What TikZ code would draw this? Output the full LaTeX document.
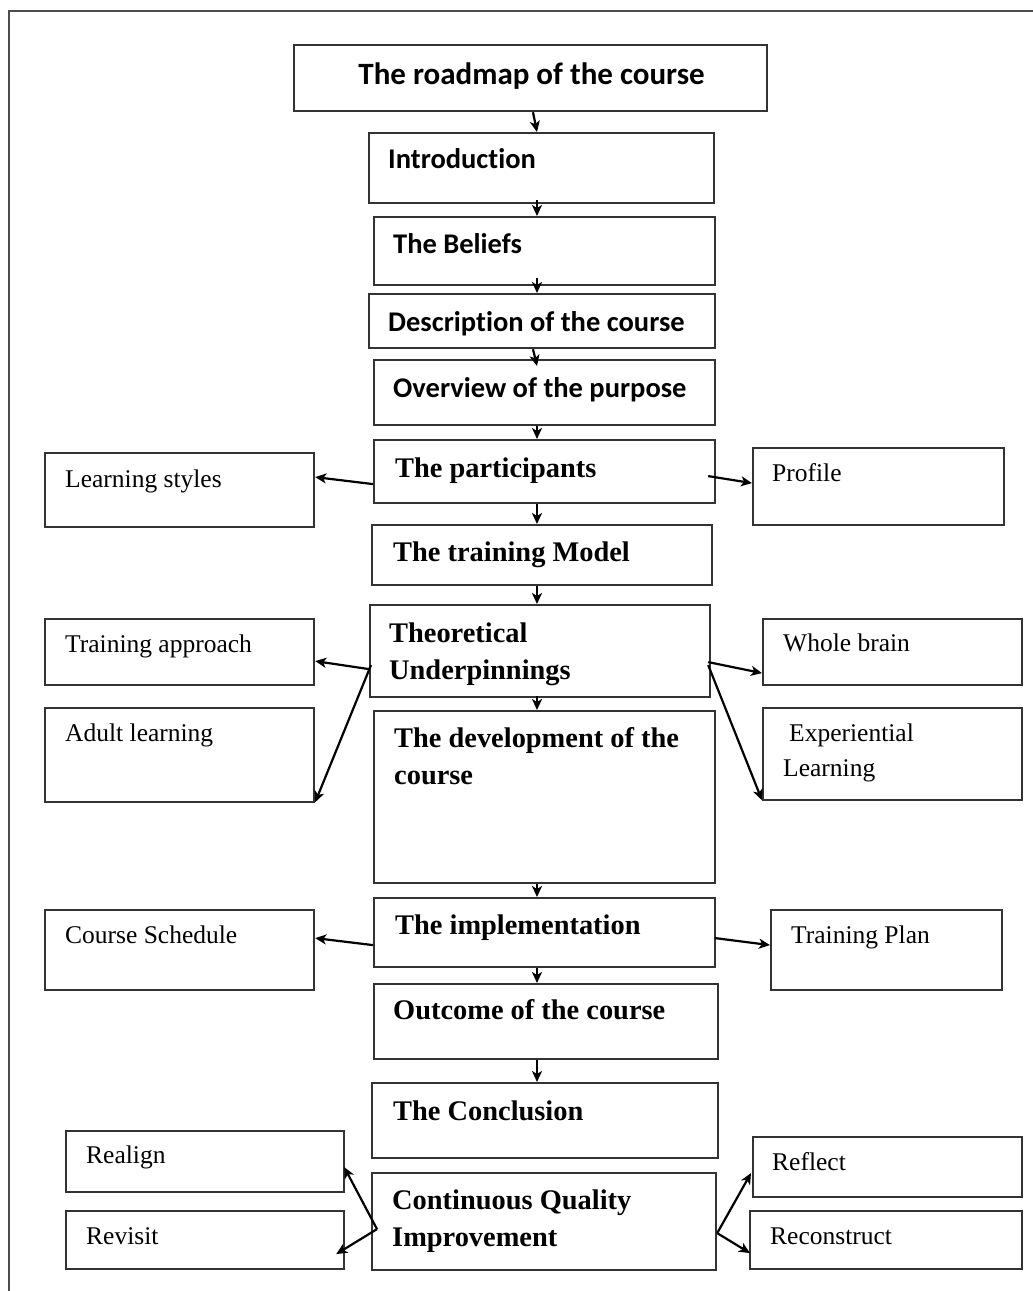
\documentclass[tikz,border=0pt]{standalone}
\usepackage{fontspec}
\setmainfont{Liberation Serif}
\newfontfamily\calib[Ligatures=NoCommon]{Carlito}
\usetikzlibrary{arrows.meta,calc}

\tikzset{
  box/.style={draw=black!80, line width=2.2pt, rectangle, inner sep=0pt,
              anchor=north west, fill=white},
  % heading text (Calibri-like bold)
  hsans/.style={font=\calib\bfseries\fontsize{28.5}{34}\selectfont, inner sep=0pt},
  % main step text (Times-like bold)
  hser/.style={font=\bfseries\fontsize{28.4}{34}\selectfont, inner sep=0pt},
  % side box text (Times-like regular)
  side/.style={font=\fontsize{25.5}{30}\selectfont, inner sep=0pt},
  link/.style={draw=black, line width=2.2pt, -{Stealth[length=11pt,width=10pt,inset=3pt]}},
  frameline/.style={draw=black!70, line width=2.4pt},
}

\begin{document}
\begin{tikzpicture}[x=1pt,y=-1pt]
\useasboundingbox (0,0) rectangle (1033,1291);

% page frame
\coordinate (fA) at (9,1291);
\coordinate (fB) at (9,11);
\coordinate (fC) at (1033,11);
\draw[frameline] (fA) -- (fB) -- (fC);

% spine for the vertical links
\coordinate (sp) at (537,0);
\coordinate (sp0) at (533,0);

% ---------- main column ----------
\node[box, minimum width=473pt, minimum height=66pt,
  label={[hsans, font=\calib\bfseries\fontsize{31}{36}\selectfont, anchor=base, xshift=1pt, yshift=-40pt]north:The roadmap of the course}] (road) at (293,44) {};

\node[box, minimum width=345pt, minimum height=70pt,
  label={[hsans, anchor=base west, xshift=20pt, yshift=-36pt]north west:Introduction}] (intro) at (368,132) {};
\node[box, minimum width=341pt, minimum height=68pt,
  label={[hsans, anchor=base west, xshift=20pt, yshift=-37pt]north west:The Beliefs}] (bel) at (373,216) {};
\node[box, minimum width=346pt, minimum height=54pt,
  label={[hsans, anchor=base west, xshift=20pt, yshift=-38pt]north west:Description of the course}] (desc) at (368,293) {};
\node[box, minimum width=341pt, minimum height=65pt,
  label={[hsans, anchor=base west, xshift=20pt, yshift=-38pt]north west:Overview of the purpose}] (over) at (373,359) {};
\node[box, minimum width=341pt, minimum height=63pt,
  label={[hser, anchor=base west, xshift=22pt, yshift=-38pt]north west:The participants}] (part) at (373,439) {};
\node[box, minimum width=340pt, minimum height=60pt,
  label={[hser, anchor=base west, xshift=22pt, yshift=-37pt]north west:The training Model}] (model) at (371,524) {};
\node[box, minimum width=340pt, minimum height=92pt,
  label={[hser, anchor=base west, xshift=20pt, yshift=-38pt]north west:Theoretical},
  label={[hser, anchor=base west, xshift=20pt, yshift=-75pt]north west:Underpinnings}] (theo) at (369,604) {};
\node[box, minimum width=341pt, minimum height=172pt,
  label={[hser, anchor=base west, xshift=21pt, yshift=-37pt]north west:The development of the},
  label={[hser, anchor=base west, xshift=21pt, yshift=-74pt]north west:course}] (dev) at (373,710) {};
\node[box, minimum width=341pt, minimum height=69pt,
  label={[hser, anchor=base west, xshift=22pt, yshift=-37pt]north west:The implementation}] (impl) at (373,897) {};
\node[box, minimum width=344pt, minimum height=75pt,
  label={[hser, anchor=base west, xshift=20pt, yshift=-36pt]north west:Outcome of the course}] (outc) at (373,983) {};
\node[box, minimum width=346pt, minimum height=75pt,
  label={[hser, anchor=base west, xshift=22pt, yshift=-38pt]north west:The Conclusion}] (concl) at (371,1082) {};
\node[box, minimum width=344pt, minimum height=97pt,
  label={[hser, anchor=base west, xshift=21pt, yshift=-37pt]north west:Continuous Quality},
  label={[hser, anchor=base west, xshift=21pt, yshift=-74pt]north west:Improvement}] (cqi) at (371,1172) {};

% ---------- side boxes ----------
\node[box, minimum width=269pt, minimum height=74pt,
  label={[side, anchor=base west, xshift=21pt, yshift=-35pt]north west:Learning styles}] (ls) at (44,452) {};
\node[box, minimum width=251pt, minimum height=77pt,
  label={[side, anchor=base west, xshift=20pt, yshift=-34pt]north west:Profile}] (prof) at (752,447) {};
\node[box, minimum width=269pt, minimum height=66pt,
  label={[side, anchor=base west, xshift=21pt, yshift=-34pt]north west:Training approach}] (tapp) at (44,618) {};
\node[box, minimum width=269pt, minimum height=94pt,
  label={[side, anchor=base west, xshift=21pt, yshift=-34pt]north west:Adult learning}] (adult) at (44,707) {};
\node[box, minimum width=259pt, minimum height=66pt,
  label={[side, anchor=base west, xshift=21pt, yshift=-33pt]north west:Whole brain}] (whole) at (762,618) {};
\node[box, minimum width=259pt, minimum height=92pt,
  label={[side, anchor=base west, xshift=27pt, yshift=-34pt]north west:Experiential},
  label={[side, anchor=base west, xshift=21pt, yshift=-69pt]north west:Learning}] (exper) at (762,707) {};
\node[box, minimum width=269pt, minimum height=80pt,
  label={[side, anchor=base west, xshift=21pt, yshift=-34pt]north west:Course Schedule}] (sched) at (44,909) {};
\node[box, minimum width=231pt, minimum height=80pt,
  label={[side, anchor=base west, xshift=21pt, yshift=-34pt]north west:Training Plan}] (plan) at (770,909) {};
\node[box, minimum width=278pt, minimum height=61pt,
  label={[side, anchor=base west, xshift=21pt, yshift=-33pt]north west:Realign}] (realign) at (65,1130) {};
\node[box, minimum width=278pt, minimum height=58pt,
  label={[side, anchor=base west, xshift=21pt, yshift=-34pt]north west:Revisit}] (revisit) at (65,1210) {};
\node[box, minimum width=269pt, minimum height=60pt,
  label={[side, anchor=base west, xshift=20pt, yshift=-34pt]north west:Reflect}] (reflect) at (752,1136) {};
\node[box, minimum width=272pt, minimum height=58pt,
  label={[side, anchor=base west, xshift=21pt, yshift=-34pt]north west:Reconstruct}] (recon) at (749,1210) {};

% ---------- vertical links ----------
\draw[link] (road.south -| sp0) -- (intro.north -| sp);
\draw[link] ([yshift=4pt]intro.south -| sp) -- (bel.north -| sp);
\draw[link] ([yshift=8pt]bel.south -| sp) -- (desc.north -| sp);
\draw[link] (desc.south -| sp0) -- ([yshift=-7pt]over.north -| sp);
\draw[link] (over.south -| sp) -- (part.north -| sp);
\draw[link] (part.south -| sp) -- (model.north -| sp);
\draw[link] (model.south -| sp) -- (theo.north -| sp);
\draw[link] ([yshift=2pt]theo.south -| sp) -- (dev.north -| sp);
\draw[link] (dev.south -| sp) -- (impl.north -| sp);
\draw[link] (impl.south -| sp) -- (outc.north -| sp);
\draw[link] (outc.south -| sp) -- (concl.north -| sp);

% ---------- side links ----------
\draw[link] ([yshift=-12.5pt]part.west) -- ([yshift=13pt]ls.east);
\draw[link] ([xshift=-8pt,yshift=-4.5pt]part.east) -- ([yshift=3.5pt]prof.west);

\draw[link] ([yshift=-18pt]theo.west) -- ([yshift=-9pt]tapp.east);
\draw[link] ([xshift=2pt,yshift=-14pt]theo.west) -- ([yshift=1pt]adult.south east);
\draw[link] ([xshift=-3pt,yshift=-11pt]theo.east) -- ([yshift=-21pt]whole.west);
\draw[link] ([xshift=-3pt,yshift=-14pt]theo.east) -- ([yshift=1pt]exper.south west);

\draw[link] ([yshift=-12.5pt]impl.west) -- ([yshift=12pt]sched.east);
\draw[link] ([xshift=-1pt,yshift=-5.5pt]impl.east) -- ([yshift=5pt]plan.west);

\draw[link] ([xshift=6pt,yshift=-7.5pt]cqi.west) -- ([xshift=-1pt,yshift=-5.5pt]realign.east);
\draw[link] ([xshift=6pt,yshift=-7.5pt]cqi.west) -- ([xshift=-9pt,yshift=-14pt]revisit.east);
\draw[link] ([yshift=-11.5pt]cqi.east) -- ([xshift=-1pt,yshift=-6pt]reflect.west);
\draw[link] ([yshift=-11.5pt]cqi.east) -- ([xshift=1pt,yshift=-13pt]recon.west);
\end{tikzpicture}
\end{document}
